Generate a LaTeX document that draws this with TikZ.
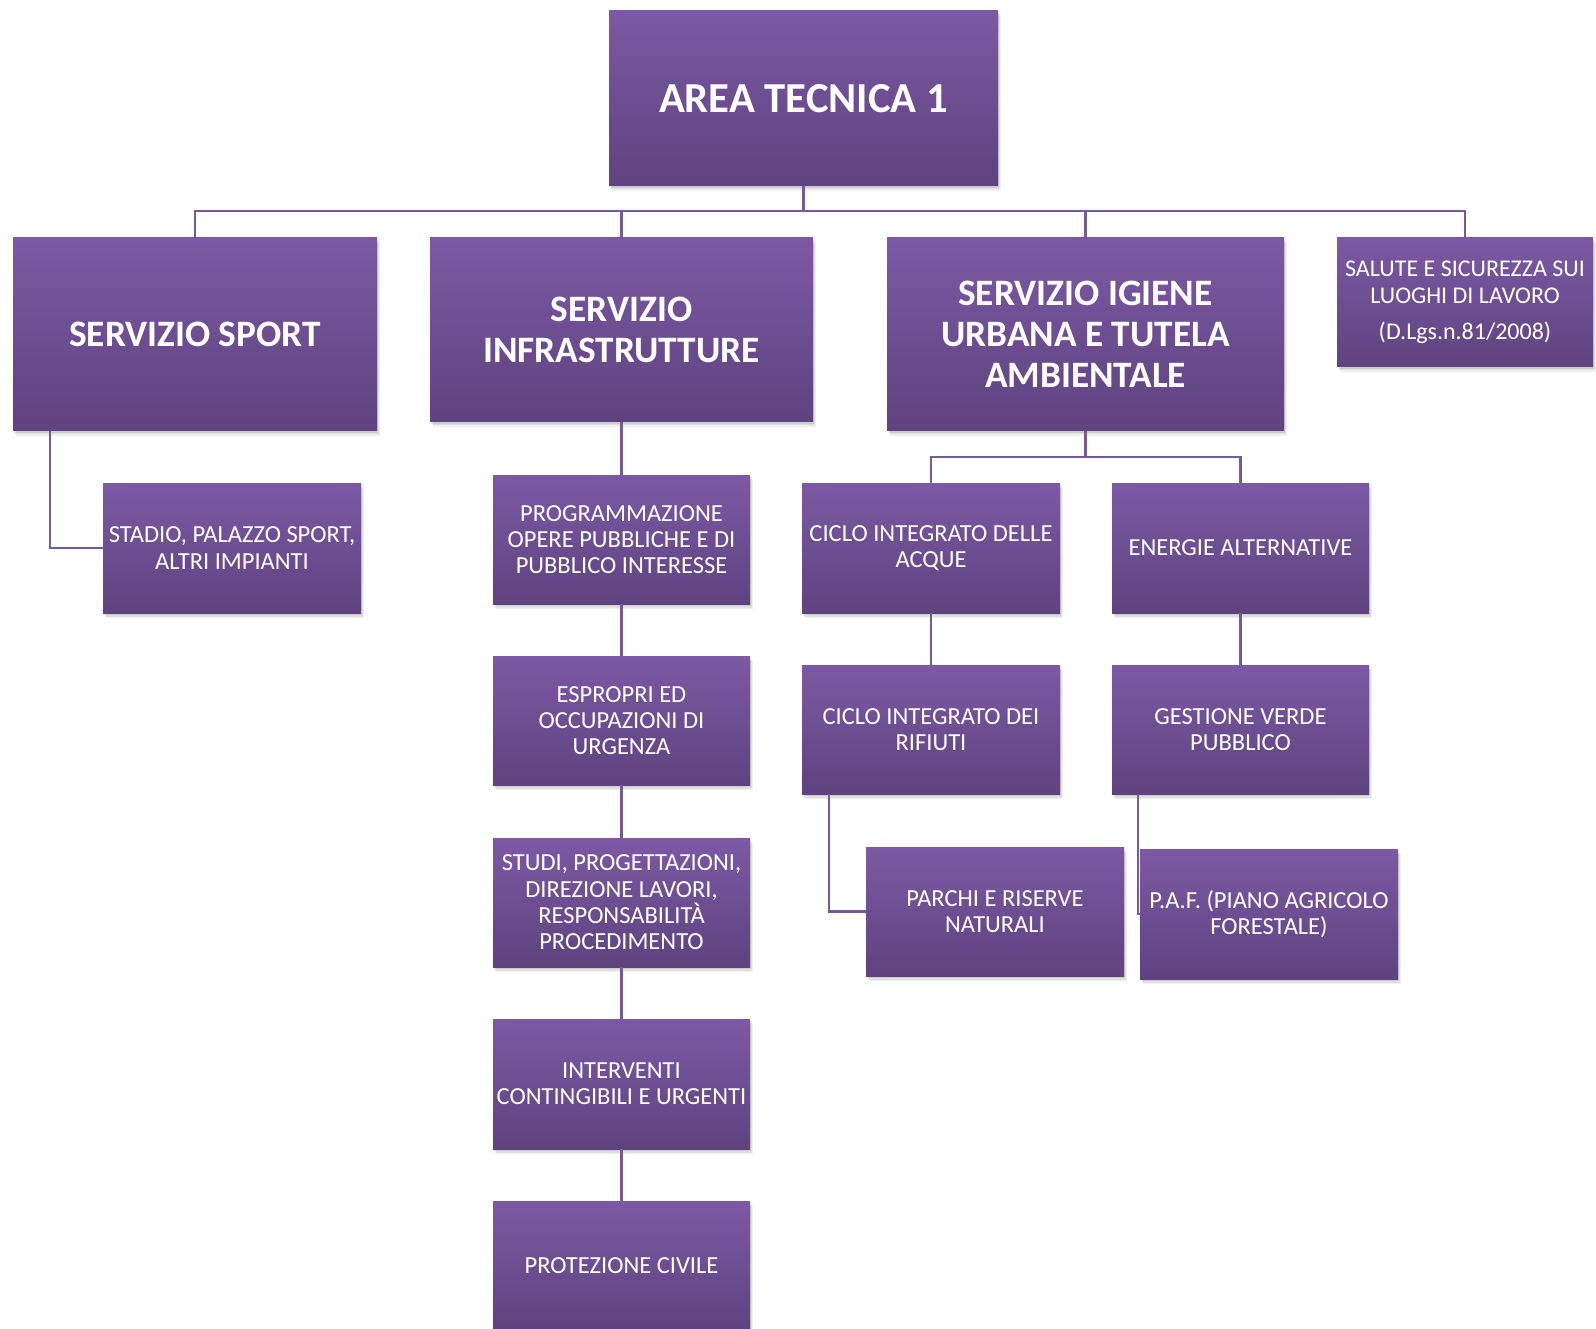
\documentclass[tikz,border=0pt]{standalone}
\usepackage{fontspec}
\setmainfont{Carlito}
\usetikzlibrary{shadows}
\definecolor{boxtop}{RGB}{124,89,164}
\definecolor{boxbot}{RGB}{94,67,127}
\definecolor{linec}{RGB}{118,88,156}
\tikzset{
  orgbox/.style={rectangle, inner sep=1pt, text=white, align=center,
    top color=boxtop, bottom color=boxbot, draw=none,
    drop shadow={shadow xshift=1pt, shadow yshift=-2pt, fill=black, opacity=0.08},
    drop shadow={shadow xshift=2pt, shadow yshift=-3.5pt, fill=black, opacity=0.07},
    drop shadow={shadow xshift=3pt, shadow yshift=-5pt, fill=black, opacity=0.06}},
  bigbox/.style={orgbox, font=\fontsize{37.3}{41}\selectfont\bfseries},
  smallbox/.style={orgbox, font=\fontsize{24.5}{26.3}\selectfont, minimum width=257pt, minimum height=129pt},
  conn/.style={draw=linec, line width=2.5pt}
}
\begin{document}
\begin{tikzpicture}[x=1pt, y=-1pt]
\useasboundingbox (0,0) rectangle (1596,1329);
% top level
\node[orgbox, font=\fontsize{42.7}{50}\selectfont\bfseries, minimum width=389pt, minimum height=175pt] (area) at (803.5,98.5) {AREA TECNICA 1};
% second level
\node[bigbox, minimum width=364pt, minimum height=193pt] (sport) at (195,334.5) {SERVIZIO SPORT};
\node[bigbox, minimum width=383pt, minimum height=184pt] (infra) at (621.5,330) {SERVIZIO\\INFRASTRUTTURE};
\node[bigbox, minimum width=397pt, minimum height=193pt] (igiene) at (1085.5,334.5) {SERVIZIO IGIENE\\URBANA E TUTELA\\AMBIENTALE};
\node[smallbox, font=\fontsize{24}{26.3}\selectfont, minimum width=256pt, minimum height=129pt] (salute) at (1465,302.5) {SALUTE E SICUREZZA SUI\\LUOGHI DI LAVORO\\[10pt](D.Lgs.n.81/2008)};
% sport child
\node[smallbox, minimum width=258pt, minimum height=130pt] (stadio) at (232,548) {STADIO, PALAZZO SPORT,\\ALTRI IMPIANTI};
% infra children
\node[smallbox] (prog) at (621.5,539.5) {PROGRAMMAZIONE\\OPERE PUBBLICHE E DI\\PUBBLICO INTERESSE};
\node[smallbox] (esp) at (621.5,720.5) {ESPROPRI ED\\OCCUPAZIONI DI\\URGENZA};
\node[smallbox] (studi) at (621.5,902.5) {STUDI, PROGETTAZIONI,\\DIREZIONE LAVORI,\\RESPONSABILITÀ\\PROCEDIMENTO};
\node[smallbox, minimum height=130pt] (interv) at (621.5,1084) {INTERVENTI\\CONTINGIBILI E URGENTI};
\node[smallbox] (prot) at (621.5,1265.5) {PROTEZIONE CIVILE};
% igiene children
\node[smallbox, minimum width=258pt, minimum height=130pt] (acque) at (931,548) {CICLO INTEGRATO DELLE\\ACQUE};
\node[smallbox, minimum height=130pt] (energie) at (1240.5,548) {ENERGIE ALTERNATIVE};
\node[smallbox, minimum width=258pt] (rifiuti) at (931,729.5) {CICLO INTEGRATO DEI\\RIFIUTI};
\node[smallbox] (verde) at (1240.5,729.5) {GESTIONE VERDE\\PUBBLICO};
\node[smallbox, minimum width=258pt] (parchi) at (995,911.5) {PARCHI E RISERVE\\NATURALI};
\node[smallbox, minimum width=258pt, minimum height=130pt] (paf) at (1269,914) {P.A.F. (PIANO AGRICOLO\\FORESTALE)};
% connectors
\coordinate (bus) at (803.5,211);
\coordinate (ibus) at (1085.5,457);
\draw[conn] (area.south) -- (bus);
\draw[conn] (sport.north) |- (bus);
\draw[conn] (infra.north) |- (bus);
\draw[conn] (igiene.north) |- (bus);
\draw[conn] (salute.north) |- (bus);
\draw[conn] ([xshift=37pt]sport.south west) |- (stadio.west);
\draw[conn] (infra.south) -- (prog.north);
\draw[conn] (prog.south) -- (esp.north);
\draw[conn] (esp.south) -- (studi.north);
\draw[conn] (studi.south) -- (interv.north);
\draw[conn] (interv.south) -- (prot.north);
\draw[conn] (igiene.south) -- (ibus);
\draw[conn] (acque.north) |- (ibus);
\draw[conn] (energie.north) |- (ibus);
\draw[conn] (acque.south) -- (rifiuti.north);
\draw[conn] (energie.south) -- (verde.north);
\draw[conn] ([xshift=27pt]rifiuti.south west) |- (parchi.west);
\draw[conn] ([xshift=26pt]verde.south west) |- (paf.west);
\end{tikzpicture}
\end{document}
